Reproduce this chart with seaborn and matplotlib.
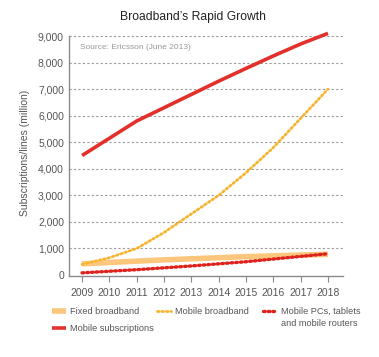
import matplotlib
matplotlib.use("Agg")
import matplotlib.pyplot as plt
import seaborn as sns
import pandas as pd
from matplotlib.ticker import FuncFormatter

sns.set_style("white")
plt.rcParams['font.family'] = ['Liberation Sans', 'DejaVu Sans']

years = [2009, 2010, 2011, 2012, 2013, 2014, 2015, 2016, 2017, 2018]
mobile_subs = [4500, 5150, 5800, 6300, 6800, 7300, 7780, 8250, 8700, 9100]
mobile_bb = [400, 650, 1000, 1600, 2300, 3000, 3850, 4800, 5900, 7000]
fixed_bb = [420, 470, 520, 570, 610, 650, 690, 720, 750, 780]
mobile_pcs = [80, 140, 200, 270, 340, 420, 500, 600, 700, 800]

labels = ["Fixed broadband", "Mobile subscriptions", "Mobile broadband",
          "Mobile PCs, tablets", "and mobile routers"]
yticks = [0, 1000, 2000, 3000, 4000, 5000, 6000, 7000, 8000, 9000]

fig = plt.figure(figsize=(3.79, 3.57), dpi=100)
ax = fig.add_axes([0.182, 0.2275, 0.723, 0.6865])

gray = "#8a8a8a"
txt = "#555555"

for yv in yticks[1:]:
    ax.axhline(yv, color="#9a9a9a", lw=0.8, ls=(0, (2, 2)), zorder=0)

sns.lineplot(x=years, y=fixed_bb, ax=ax, color="#fcc77c", lw=4.0,
             label=labels[0], solid_capstyle="butt", legend=False)
sns.lineplot(x=years, y=mobile_subs, ax=ax, color="#e3302a", lw=2.6,
             label=labels[1], solid_capstyle="butt", legend=False)
sns.lineplot(x=years, y=mobile_bb, ax=ax, color="#f6b531", lw=2.0,
             label=labels[2], legend=False)
ax.lines[-1].set_linestyle((0, (0.6, 1.0)))
ax.lines[-1].set_dash_capstyle("round")
sns.lineplot(x=years, y=mobile_pcs, ax=ax, color="#e0221c", lw=2.4,
             label=labels[3], legend=False)
ax.lines[-1].set_linestyle((0, (0.5, 0.9)))
ax.lines[-1].set_dash_capstyle("round")

series_lines = ax.lines[-4:]

ax.set_xlim(2008.52, 2018.55)
ax.set_ylim(-30, 9200)
ax.set_xticks(years)
ax.set_yticks(yticks)
ax.yaxis.set_major_formatter(FuncFormatter(lambda v, p: f"{int(v):,}"))
ax.tick_params(axis="x", bottom=True, length=4, width=0.8, color=gray,
               labelsize=7.5, labelcolor=txt, pad=5)
ax.tick_params(axis="y", left=False, length=0, labelsize=7.5, labelcolor=txt, pad=3.6)

for s in ["top", "right"]:
    ax.spines[s].set_visible(False)
for s in ["left", "bottom"]:
    ax.spines[s].set_color(gray)
    ax.spines[s].set_linewidth(1.0)
ax.spines["left"].set_bounds(-30, 9000)

ax.set_ylabel("Subscriptions/lines (million)", fontsize=7.5, color=txt, labelpad=6)
ax.text(0.04, 0.93, "Source: Ericsson (June 2013)", transform=ax.transAxes,
        fontsize=6, color="#999999", va="center")
fig.text(0.51, 0.953, "Broadband\u2019s Rapid Growth", ha="center", va="center",
         fontsize=8.7, color="#222222")

common = dict(loc="upper left", frameon=False, fontsize=6.6, handlelength=1.5,
              handletextpad=0.45, borderpad=0, borderaxespad=0,
              labelspacing=0.85, bbox_transform=fig.transFigure)
leg1 = fig.legend(handles=series_lines[0:2], labels=labels[0:2],
                  bbox_to_anchor=(0.137, 0.14), **common)
leg2 = fig.legend(handles=[series_lines[2]], labels=[labels[2]],
                  bbox_to_anchor=(0.414, 0.14), **common)
leg3 = fig.legend(handles=[series_lines[3]], labels=[labels[3]],
                  bbox_to_anchor=(0.694, 0.14), **common)
for lg in (leg1, leg2, leg3):
    for t in lg.get_texts():
        t.set_color(txt)
fig.text(281 / 379, 1 - 323 / 357, labels[4], fontsize=6.6, color=txt,
         ha="left", va="center")

fig.savefig("out.png", dpi=100)
